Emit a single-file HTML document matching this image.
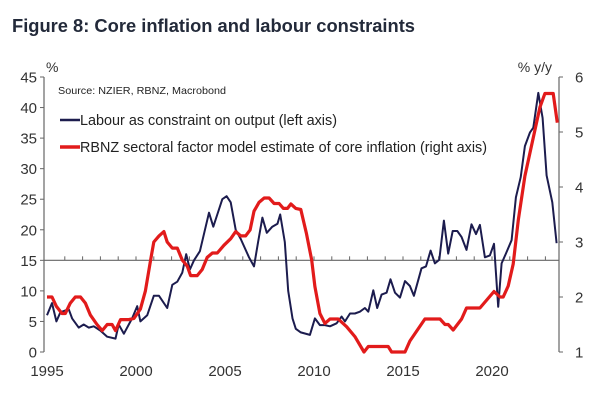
<!DOCTYPE html>
<html><head><meta charset="utf-8"><style>
html,body{margin:0;padding:0;background:#fff;}
svg{display:block;font-family:"Liberation Sans",sans-serif;}
</style></head><body>
<svg id="chart" width="600" height="400">
<text x="12" y="32" font-size="18" font-weight="bold" fill="#232a3a" textLength="403" lengthAdjust="spacingAndGlyphs">Figure 8: Core inflation and labour constraints</text>
<g id="axes"></g>
<g id="series"></g>
<text x="58" y="94" font-size="10.5" fill="#222" textLength="168" lengthAdjust="spacingAndGlyphs">Source: NZIER, RBNZ, Macrobond</text>
<line x1="60" y1="120" x2="80" y2="120" stroke="#1c1c4e" stroke-width="2.5"/>
<text x="80" y="125" font-size="14.3" fill="#222" textLength="257" lengthAdjust="spacingAndGlyphs">Labour as constraint on output (left axis)</text>
<line x1="60" y1="147" x2="80" y2="147" stroke="#e21b1b" stroke-width="3.5"/>
<text x="80" y="152" font-size="14.3" fill="#222" textLength="407" lengthAdjust="spacingAndGlyphs">RBNZ sectoral factor model estimate of core inflation (right axis)</text>
</svg>
<script>
const labourYears=[1995.0,1995.28,1995.53,1995.75,1996.22,1996.41,1996.78,1997.06,1997.35,1997.63,1998.0,1998.38,1998.85,1999.03,1999.32,1999.78,2000.07,2000.25,2000.63,2001.0,2001.29,2001.75,2002.04,2002.32,2002.6,2002.82,2003.03,2003.26,2003.59,2004.1,2004.34,2004.57,2004.85,2005.09,2005.32,2005.6,2005.88,2006.35,2006.63,2006.86,2007.1,2007.35,2007.66,2007.95,2008.1,2008.36,2008.55,2008.79,2008.98,2009.26,2009.77,2010.05,2010.33,2010.61,2010.9,2011.27,2011.55,2011.74,2012.02,2012.3,2012.58,2012.86,2013.05,2013.33,2013.55,2013.8,2014.08,2014.3,2014.55,2014.83,2015.11,2015.39,2015.61,2016.04,2016.29,2016.55,2016.79,2017.04,2017.3,2017.54,2017.79,2018.05,2018.29,2018.57,2018.85,2019.1,2019.32,2019.6,2019.88,2020.11,2020.35,2020.54,2020.78,2021.1,2021.34,2021.61,2021.85,2022.13,2022.32,2022.6,2022.84,2023.07,2023.39,2023.63];
const labourValues=[6,8,5,6.5,7,5.5,4,4.5,4,4.2,3.5,2.5,2.2,4.5,3,5.5,7.5,5,6,9.2,9.2,7.2,11,11.5,13,16,13.5,15,16.5,22.8,20.5,22.5,25,25.5,24.5,20,18.5,15.5,14,18,22,19.5,20.5,21,22.5,18,10,5.5,3.8,3.2,2.8,5.5,4.4,4.4,4.2,4.7,5.8,5.0,6.3,6.3,6.6,7.2,6.6,10.1,7.2,9.4,9.7,11.9,9.7,8.9,11.6,10.8,9.2,13.7,14.0,16.6,14.5,15.1,21.5,16.1,19.8,19.8,18.8,16.7,20.9,19.3,20.8,15.5,15.8,17.7,7.4,14.5,16.1,18.3,25.3,28.6,33.7,35.9,36.7,42.4,38.3,28.9,24.5,17.8];
const coreYears=[1995.0,1995.28,1995.53,1995.84,1996.03,1996.31,1996.59,1996.88,1997.16,1997.44,1997.81,1998.1,1998.38,1998.66,1998.85,1999.13,1999.6,1999.88,2000.25,2000.53,2000.82,2001.0,2001.29,2001.57,2001.75,2002.04,2002.32,2002.6,2002.88,2003.07,2003.44,2003.72,2004.0,2004.29,2004.57,2004.94,2005.32,2005.6,2005.88,2006.16,2006.41,2006.63,2006.91,2007.2,2007.48,2007.76,2008.04,2008.28,2008.51,2008.7,2008.98,2009.26,2009.58,2009.87,2010.05,2010.33,2010.61,2010.9,2011.36,2011.83,2012.3,2012.81,2013.05,2014.17,2014.36,2015.11,2015.39,2016.23,2017.08,2017.36,2017.54,2017.82,2018.29,2018.57,2019.32,2020.11,2020.45,2020.63,2020.91,2021.19,2021.48,2021.85,2022.32,2022.69,2022.97,2023.44,2023.67];
const coreValues=[2.0,2.0,1.83,1.7,1.7,1.89,2.0,2.0,1.89,1.67,1.5,1.39,1.5,1.5,1.39,1.59,1.59,1.61,1.78,2.11,2.67,3.0,3.11,3.19,3.0,2.89,2.89,2.67,2.56,2.39,2.39,2.5,2.72,2.8,2.8,2.94,3.06,3.19,3.11,3.11,3.22,3.56,3.72,3.8,3.8,3.7,3.7,3.61,3.61,3.69,3.61,3.59,3.15,2.67,2.19,1.7,1.52,1.6,1.6,1.46,1.28,1.0,1.1,1.1,1.0,1.0,1.2,1.6,1.6,1.5,1.5,1.4,1.6,1.8,1.8,2.1,2.0,2.0,2.2,2.6,3.4,4.2,4.9,5.45,5.7,5.7,5.17];
const leftTicks=[0,5,10,15,20,25,30,35,40,45];
const rightTicks=[1,2,3,4,5,6];
const yearLabels=[1995,2000,2005,2010,2015,2020];

const NS="http://www.w3.org/2000/svg";
const X0=47,PXY=17.8,YB=352,YT=77,LAX=44,RAX=559;
const xs=y=>X0+(y-1995)*PXY;
const yl=v=>YB-(v/45)*(YB-YT);
const yr=v=>YB-((v-1)/5)*(YB-YT);
function mk(tag,attrs,parent){const e=document.createElementNS(NS,tag);for(const k in attrs)e.setAttribute(k,attrs[k]);parent.appendChild(e);return e;}
const ax=document.getElementById('axes'),se=document.getElementById('series');
const c='#666';
let l=mk('line',{x1:LAX,y1:YT,x2:LAX,y2:YB,stroke:c,'stroke-width':1.2},ax);


l=mk('line',{x1:RAX,y1:YT,x2:RAX,y2:YB,stroke:c,'stroke-width':1.2},ax);


l=mk('line',{x1:LAX,y1:yl(15),x2:RAX,y2:yl(15),stroke:c,'stroke-width':1.2},ax);


leftTicks.forEach(v=>{
 mk('line',{x1:LAX-4,y1:yl(v),x2:LAX,y2:yl(v),stroke:c},ax);
 const t=mk('text',{x:LAX-7,y:yl(v)+5.5,'font-size':15,'text-anchor':'end',fill:'#333'},ax);
 t.textContent=v;
 
 
});
rightTicks.forEach(v=>{
 mk('line',{x1:RAX,y1:yr(v),x2:RAX+4,y2:yr(v),stroke:c},ax);
 const t=mk('text',{x:RAX+16,y:yr(v)+5.5,'font-size':15,fill:'#333'},ax);
 t.textContent=v;
 
 
});
for(let y=1996;y<=2023;y++){mk('line',{x1:xs(y),y1:yl(15)-4,x2:xs(y),y2:yl(15),stroke:c},ax);}
yearLabels.forEach(y=>{
 const t=mk('text',{x:xs(y),y:376,'font-size':15,'text-anchor':'middle',fill:'#333'},ax);
 t.textContent=y;
 
 
});
let t=mk('text',{x:46,y:72,'font-size':14,fill:'#333'},ax);t.textContent='%';


t=mk('text',{x:552,y:72,'font-size':14,'text-anchor':'end',fill:'#333'},ax);t.textContent='% y/y';


let p=mk('polyline',{points:labourYears.map((y,i)=>xs(y).toFixed(1)+','+yl(labourValues[i]).toFixed(1)).join(' '),fill:'none',stroke:'#1c1c4e','stroke-width':2,'stroke-linejoin':'round'},se);


p=mk('polyline',{points:coreYears.map((y,i)=>xs(y).toFixed(1)+','+yr(coreValues[i]).toFixed(1)).join(' '),fill:'none',stroke:'#e21b1b','stroke-width':3.2,'stroke-linejoin':'round'},se);


</script>
</body></html>
